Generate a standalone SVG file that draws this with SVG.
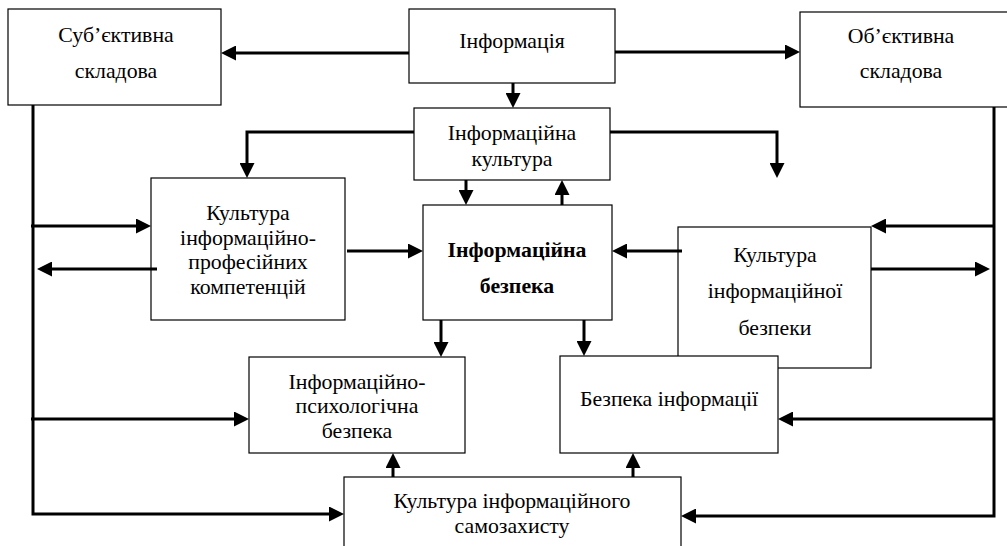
<svg xmlns="http://www.w3.org/2000/svg" width="1007" height="546" viewBox="0 0 1007 546">
<style>
.box{fill:#fff;stroke:#000;stroke-width:1.2}
.t{font-family:"Liberation Serif","Times New Roman",serif;font-size:21.8px;fill:#000;text-anchor:middle}
.b{font-weight:bold}
.c{fill:none;stroke:#000;stroke-width:3;marker-end:url(#ah)}
</style>
<defs>
<marker id="ah" markerUnits="userSpaceOnUse" markerWidth="15" markerHeight="15" refX="10" refY="7.5" orient="auto">
<path d="M0,0 L15,7.5 L0,15 z" fill="#000"/>
</marker>
</defs>
<rect width="1007" height="546" fill="#fff"/>
<g id="n-sub">
<rect class="box" x="8" y="9" width="213" height="96"/>
<text class="t" x="116" y="42">Суб’єктивна</text>
<text class="t" x="116" y="78">складова</text>
</g>
<g id="n-info">
<rect class="box" x="409" y="9" width="206" height="74"/>
<text class="t" x="512" y="48">Інформація</text>
</g>
<g id="n-ob">
<rect class="box" x="800" y="12" width="210" height="95"/>
<text class="t" x="901" y="43">Об’єктивна</text>
<text class="t" x="901" y="78">складова</text>
</g>
<g id="n-infcult">
<rect class="box" x="414" y="108" width="196" height="72"/>
<text class="t" x="512" y="140">Інформаційна</text>
<text class="t" x="512" y="166">культура</text>
</g>
<g id="n-prof">
<rect class="box" x="151" y="178" width="194" height="142"/>
<text class="t" x="248" y="220">Культура</text>
<text class="t" x="248" y="245">інформаційно-</text>
<text class="t" x="248" y="269">професійних</text>
<text class="t" x="248" y="294">компетенцій</text>
</g>
<g id="n-infsec">
<rect class="box" x="423" y="205" width="189" height="115"/>
<text class="t b" x="517" y="257">Інформаційна</text>
<text class="t b" x="517" y="293">безпека</text>
</g>
<g id="n-cultsec">
<rect class="box" x="678" y="227" width="193" height="141"/>
<text class="t" x="775" y="262">Культура</text>
<text class="t" x="775" y="298">інформаційної</text>
<text class="t" x="775" y="335">безпеки</text>
</g>
<g id="n-secinfo">
<rect class="box" x="560" y="356" width="218" height="97"/>
<text class="t" x="669" y="406">Безпека інформації</text>
</g>
<g id="n-psych">
<rect class="box" x="249" y="357" width="216" height="96"/>
<text class="t" x="357" y="389">Інформаційно-</text>
<text class="t" x="357" y="413">психологічна</text>
<text class="t" x="357" y="438">безпека</text>
</g>
<g id="n-self">
<rect class="box" x="344" y="477" width="337" height="90"/>
<text class="t" x="512" y="508">Культура інформаційного</text>
<text class="t" x="512" y="533">самозахисту</text>
</g>
<g id="connectors">
<path class="c" d="M409,53 H226"/>
<path class="c" d="M615,52 H795"/>
<path class="c" d="M513,83 V103"/>
<path class="c" d="M414,132 H247 V173"/>
<path class="c" d="M610,132 H777 V173"/>
<path class="c" d="M466,180 V200"/>
<path class="c" d="M562,205 V185"/>
<path class="c" d="M33,105 V514 H339"/>
<path class="c" d="M31,226 H146"/>
<path class="c" d="M157,269 H42"/>
<path class="c" d="M347,251 H418"/>
<path class="c" d="M682,251 H617"/>
<path class="c" d="M994,107 V516 H686"/>
<path class="c" d="M994,226 H876"/>
<path class="c" d="M871,269 H985"/>
<path class="c" d="M441,320 V352"/>
<path class="c" d="M584,320 V351"/>
<path class="c" d="M31,419 H244"/>
<path class="c" d="M994,419 H783"/>
<path class="c" d="M393,477 V458"/>
<path class="c" d="M633,477 V458"/>
</g>
</svg>
